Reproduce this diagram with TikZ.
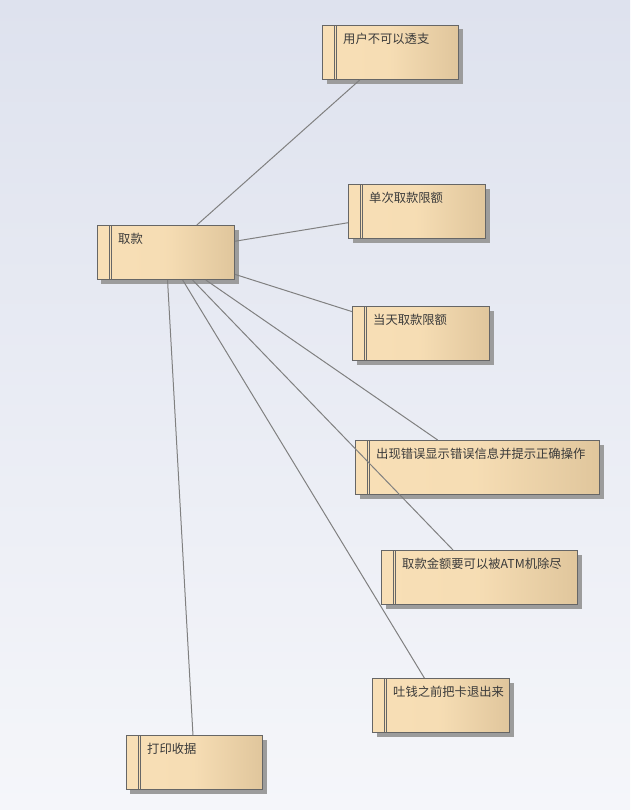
\documentclass[tikz,border=0pt]{standalone}
\usepackage{fontspec}
\usetikzlibrary{shadows}
\newfontfamily\cjk{Noto Sans CJK SC}
\definecolor{BgTop}{HTML}{DEE2EE}
\definecolor{BgBottom}{HTML}{F5F6FA}
\definecolor{ReqLight}{HTML}{F8DFB6}
\definecolor{ReqDark}{HTML}{E0C69C}
\definecolor{ReqLine}{HTML}{666666}
\definecolor{ReqShadow}{HTML}{9C9C9C}
\definecolor{ReqText}{HTML}{3A3A3A}
\definecolor{LinkGray}{HTML}{808080}

\tikzset{
  req/.style={rectangle, draw=ReqLine, line width=0.85pt, anchor=north west,
    inner sep=0pt, minimum height=54*0.03cm,
    left color=ReqLight, right color=ReqDark, middle color=ReqLight!90!ReqDark,
    drop shadow={shadow xshift=0.12cm, shadow yshift=-0.12cm, fill=ReqShadow, opacity=1},
    path picture={
      \draw[ReqLine, line width=0.6pt]
        ([xshift=12*0.03cm]path picture bounding box.north west) --
        ([xshift=12*0.03cm]path picture bounding box.south west);
      \draw[ReqLine, line width=0.6pt]
        ([xshift=14*0.03cm]path picture bounding box.north west) --
        ([xshift=14*0.03cm]path picture bounding box.south west);
    }},
  reqtext/.style={anchor=north west, inner sep=0pt, xshift=21*0.03cm, yshift=-8*0.03cm,
    font=\cjk\fontsize{10.5}{12}\selectfont, text=ReqText},
  link/.style={draw=LinkGray, line width=0.85pt}
}

\begin{document}
\begin{tikzpicture}[x=0.03cm, y=-0.03cm]
  % background
  \shade[top color=BgTop, bottom color=BgBottom] (0,0) rectangle (630,810);
  \useasboundingbox (0,0) rectangle (630,810);

  % requirement boxes
  \node[req, minimum width=137*0.03cm, label={[reqtext]north west:取款}] (withdraw) at (97,225) {};
  \node[req, minimum width=136*0.03cm, label={[reqtext]north west:用户不可以透支}] (overdraft) at (322,25) {};
  \node[req, minimum width=137*0.03cm, label={[reqtext]north west:单次取款限额}] (single) at (348,184) {};
  \node[req, minimum width=137*0.03cm, label={[reqtext]north west:当天取款限额}] (daily) at (352,306) {};
  \node[req, minimum width=244*0.03cm, label={[reqtext]north west:出现错误显示错误信息并提示正确操作}] (error) at (355,440) {};
  \node[req, minimum width=196*0.03cm, label={[reqtext]north west:取款金额要可以被ATM机除尽}] (amount) at (381,550) {};
  \node[req, minimum width=137*0.03cm, label={[reqtext]north west:吐钱之前把卡退出来}] (card) at (372,678) {};
  \node[req, minimum width=136*0.03cm, label={[reqtext]north west:打印收据}] (receipt) at (126,735) {};

  % links
  \draw[link] (withdraw) -- (overdraft);
  \draw[link] (withdraw) -- (single);
  \draw[link] (withdraw) -- (daily);
  \draw[link] (withdraw) -- (error);
  \draw[link] (withdraw) -- (amount);
  \draw[link] (withdraw) -- (card);
  \draw[link] (withdraw) -- (receipt);
\end{tikzpicture}
\end{document}
